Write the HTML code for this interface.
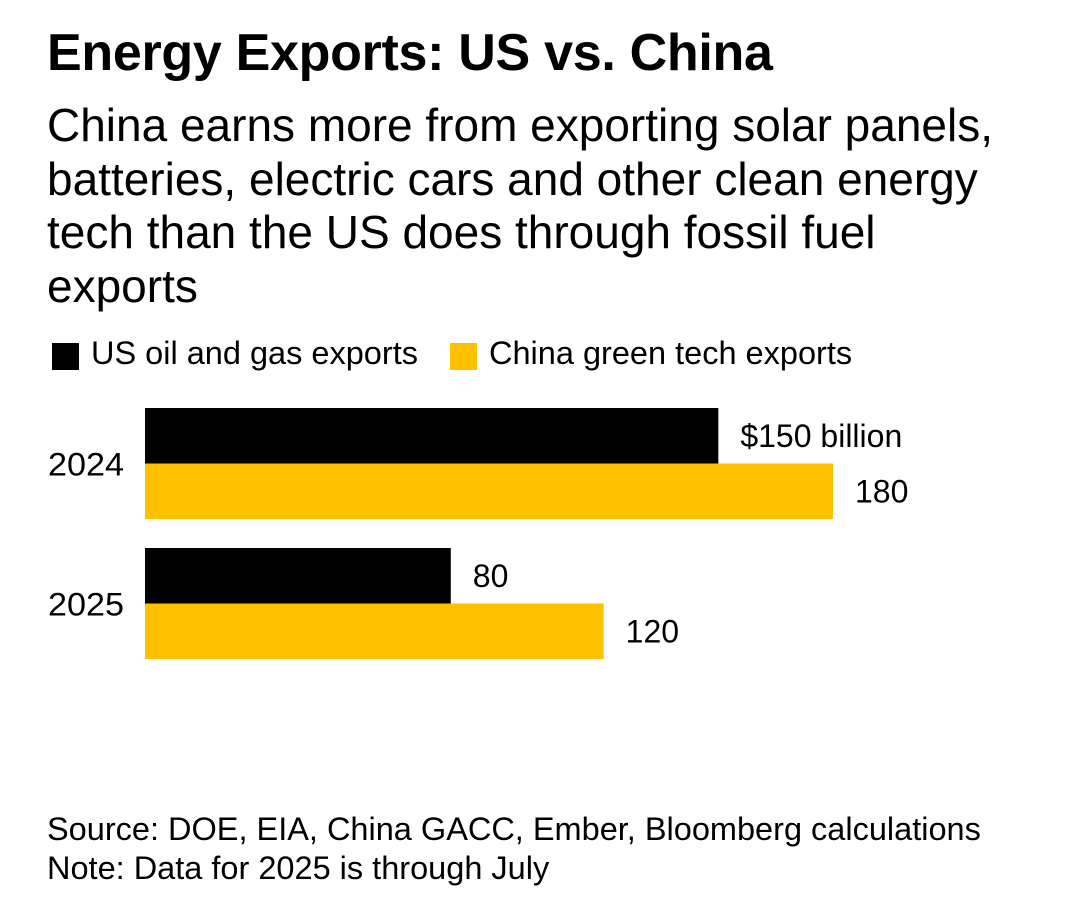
<!DOCTYPE html>
<html><head><meta charset="utf-8">
<style>
html,body{margin:0;padding:0;background:#fff;}
body{width:1080px;height:913px;position:relative;overflow:hidden;font-family:"Liberation Sans",Arial,sans-serif;color:#000;}
.t{position:absolute;white-space:nowrap;}
</style></head><body>
<div class="t" style="left:47px;top:23px;font-size:52px;font-weight:bold;letter-spacing:-0.3px;">Energy Exports: US vs. China</div>
<div class="t" style="left:47px;top:99px;font-size:46px;line-height:53.5px;">China earns more from exporting solar panels,<br>batteries, electric cars and other clean energy<br>tech than the US does through fossil fuel<br>exports</div>
<div style="position:absolute;left:52px;top:343px;width:27px;height:27px;background:#000;"></div>
<div class="t" style="left:91px;top:335px;font-size:32.5px;">US oil and gas exports</div>
<div style="position:absolute;left:450px;top:343px;width:27px;height:27px;background:#ffc000;"></div>
<div class="t" style="left:489px;top:335px;font-size:32.5px;">China green tech exports</div>
<svg id="chart" width="1080" height="913" style="position:absolute;left:0;top:0;" font-family="Liberation Sans, Arial, sans-serif"></svg>
<div class="t" style="left:47px;top:810px;font-size:32.5px;line-height:39px;">Source: DOE, EIA, China GACC, Ember, Bloomberg calculations<br>Note: Data for 2025 is through July</div>
<script>
const categories = ["2024", "2025"];
const usValues = [150, 80];
const chinaValues = [180, 120];
const usLabels = ["$150 billion", "80"];
const chinaLabels = ["180", "120"];

const svg = document.getElementById('chart');
const NS = 'http://www.w3.org/2000/svg';
const x0 = 145, scale = 688 / 180;
const xs = v => x0 + v * scale;
const rowTop = [408, 548], barH = 55.5;
function mk(tag, attrs){const e=document.createElementNS(NS,tag);for(const k in attrs)e.setAttribute(k,attrs[k]);svg.appendChild(e);return e;}
categories.forEach((c,i)=>{
  const y = rowTop[i];
  const yl = mk('text',{x:48,y:y+barH+12,'font-size':32,textLength:76,lengthAdjust:'spacingAndGlyphs'});
  yl.textContent = c;
  
  
  const b1 = mk('rect',{x:x0,y:y,width:xs(usValues[i])-x0,height:barH,fill:'#000'});
  
  
  const b2 = mk('rect',{x:x0,y:y+barH,width:xs(chinaValues[i])-x0,height:barH,fill:'#ffc000'});
  
  
  const l1 = mk('text',{x:xs(usValues[i])+22,y:y+barH/2+11,'font-size':32});
  l1.textContent = usLabels[i];
  
  
  const l2 = mk('text',{x:xs(chinaValues[i])+22,y:y+barH*1.5+11,'font-size':32});
  l2.textContent = chinaLabels[i];
  
  
});
</script>
</body></html>
